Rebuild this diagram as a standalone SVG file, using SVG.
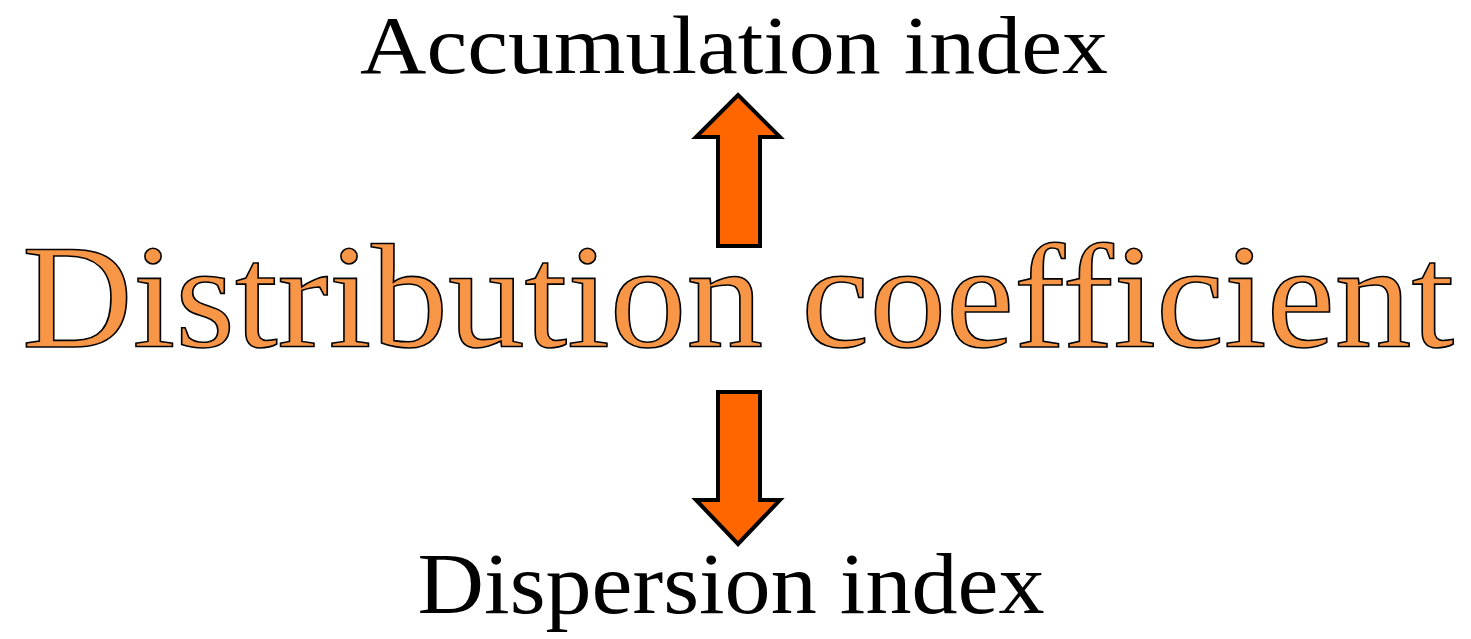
<svg xmlns="http://www.w3.org/2000/svg" width="1471" height="639" viewBox="0 0 1471 639">
<style>
.lbl{font-family:"Liberation Serif","DejaVu Serif",serif;fill:#000;text-anchor:middle}
.main{font-family:"Liberation Serif","DejaVu Serif",serif;fill:#F79646;stroke:#000;stroke-width:1.6;text-anchor:middle}
.arrow{fill:#FF6600;stroke:#000;stroke-width:4;stroke-linejoin:miter}
</style>
<rect width="1471" height="639" fill="#fff"/>
<g id="accumulation">
<text class="lbl" x="734" y="73" font-size="82" textLength="748" lengthAdjust="spacingAndGlyphs">Accumulation index</text>
</g>
<g id="distribution">
<text class="main" x="738" y="347" font-size="148" textLength="1432" lengthAdjust="spacingAndGlyphs">Distribution coefficient</text>
</g>
<g id="dispersion">
<text class="lbl" x="731" y="613" font-size="86" textLength="627" lengthAdjust="spacingAndGlyphs">Dispersion index</text>
</g>
<g id="connectors">
<polygon class="arrow" points="738,95 780,137 760,137 760,246 718,246 718,137 696,137"/>
<polygon class="arrow" points="718,392 760,392 760,500 780,500 738,544 696,500 718,500"/>
</g>
</svg>
